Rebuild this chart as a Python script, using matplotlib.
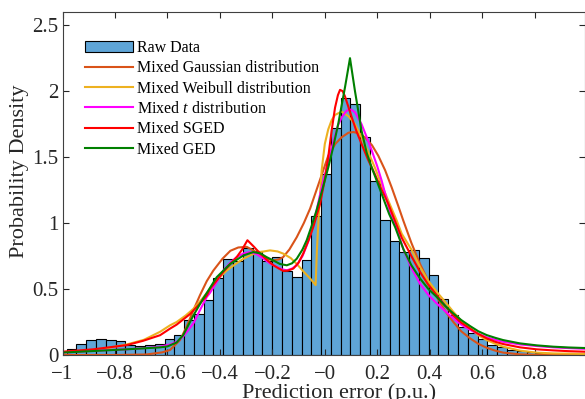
import numpy as np
import matplotlib.pyplot as plt
from matplotlib.patches import Patch
from matplotlib.lines import Line2D

plt.rcParams['font.family'] = ['Liberation Serif', 'DejaVu Serif']
plt.rcParams['mathtext.fontset'] = 'custom'
plt.rcParams['mathtext.rm'] = 'Liberation Serif'
plt.rcParams['mathtext.it'] = 'Liberation Serif:italic'

# histogram (bin edges start, width, density per bin)
bin_start = -0.984
bin_width = 0.0373
hist_density = [0.046, 0.081, 0.113, 0.121, 0.113, 0.105, 0.075, 0.065, 0.075, 0.085,
                0.118, 0.155, 0.262, 0.307, 0.42, 0.58, 0.73, 0.712, 0.813, 0.788,
                0.71, 0.743, 0.637, 0.59, 0.717, 1.057, 1.372, 1.724, 1.951, 1.90,
                1.649, 1.322, 1.02, 0.862, 0.78, 0.798, 0.737, 0.604, 0.427, 0.302,
                0.21, 0.169, 0.118, 0.075, 0.059, 0.04, 0.031, 0.02, 0.013, 0.01,
                0.008, 0.006, 0.005]

# fitted curves
gauss_x = [-1.0, -0.8, -0.68, -0.62, -0.59, -0.552, -0.527, -0.501, -0.476, -0.45,
           -0.425, -0.39, -0.36, -0.33, -0.298, -0.27, -0.247, -0.22, -0.197, -0.175,
           -0.159, -0.135, -0.107, -0.08, -0.056, -0.037, -0.018, 0.013, 0.04, 0.064,
           0.09, 0.109, 0.13, 0.153, 0.18, 0.204, 0.23, 0.255, 0.28, 0.299, 0.33,
           0.363, 0.395, 0.427, 0.46, 0.49, 0.52, 0.554, 0.585, 0.617, 0.65, 0.68,
           0.744, 0.8, 0.99]
gauss_y = [0.0, 0.0, 0.004, 0.02, 0.038, 0.113, 0.214, 0.34, 0.453, 0.56,
           0.64, 0.73, 0.79, 0.815, 0.82, 0.79, 0.755, 0.73, 0.717, 0.725,
           0.742, 0.8, 0.893, 1.0, 1.11, 1.22, 1.33, 1.51, 1.6, 1.65,
           1.685, 1.69, 1.68, 1.65, 1.59, 1.51, 1.40, 1.27, 1.13, 1.02, 0.85,
           0.69, 0.56, 0.44, 0.33, 0.25, 0.18, 0.126, 0.085, 0.055, 0.033, 0.018,
           0.005, 0.001, 0.0]

weib_x = [-1.0, -0.95, -0.883, -0.82, -0.755, -0.69, -0.628, -0.59, -0.565, -0.53,
          -0.501, -0.47, -0.438, -0.405, -0.374, -0.34, -0.31, -0.28, -0.247, -0.209,
          -0.18, -0.158, -0.13, -0.107, -0.08, -0.056, -0.035, -0.03, -0.022, -0.012,
          0.0, 0.013, 0.026, 0.039, 0.064, 0.09, 0.115, 0.14, 0.165, 0.191, 0.217,
          0.242, 0.274, 0.293, 0.33, 0.363, 0.395, 0.427, 0.46, 0.49, 0.52, 0.554,
          0.585, 0.617, 0.65, 0.68, 0.744, 0.808, 0.87, 0.935, 0.99]
weib_y = [0.02, 0.025, 0.038, 0.055, 0.08, 0.115, 0.176, 0.225, 0.25, 0.3,
          0.35, 0.42, 0.5, 0.58, 0.64, 0.69, 0.73, 0.76, 0.78, 0.793,
          0.785, 0.768, 0.735, 0.69, 0.63, 0.58, 0.53, 0.80, 1.10, 1.40,
          1.60, 1.71, 1.78, 1.82, 1.845, 1.81, 1.75, 1.65, 1.54, 1.42, 1.29,
          1.17, 1.02, 0.92, 0.80, 0.667, 0.56, 0.478, 0.40, 0.327, 0.26, 0.20,
          0.15, 0.113, 0.085, 0.063, 0.033, 0.018, 0.012, 0.01, 0.008]

t_x = [-1.0, -0.883, -0.755, -0.69, -0.628, -0.59, -0.565, -0.54, -0.52, -0.501,
       -0.476, -0.45, -0.438, -0.41, -0.387, -0.36, -0.336, -0.31, -0.285, -0.26,
       -0.234, -0.21, -0.183, -0.165, -0.145, -0.125, -0.107, -0.085, -0.063, -0.04,
       -0.012, 0.026, 0.05, 0.064, 0.08, 0.09, 0.1, 0.115, 0.14, 0.16, 0.179, 0.2,
       0.217, 0.249, 0.268, 0.30, 0.33, 0.363, 0.395, 0.427, 0.46, 0.49, 0.52,
       0.554, 0.585, 0.617, 0.65, 0.68, 0.744, 0.808, 0.871, 0.93, 0.99]
t_y = [0.018, 0.033, 0.043, 0.052, 0.063, 0.08, 0.10, 0.14, 0.19, 0.24,
       0.34, 0.44, 0.47, 0.56, 0.64, 0.70, 0.742, 0.77, 0.78, 0.765,
       0.73, 0.695, 0.667, 0.65, 0.642, 0.655, 0.68, 0.75, 0.86, 1.02,
       1.27, 1.57, 1.74, 1.80, 1.845, 1.86, 1.86, 1.84, 1.75, 1.65, 1.55, 1.43,
       1.32, 1.08, 0.99, 0.80, 0.66, 0.54, 0.455, 0.39, 0.33, 0.277, 0.23,
       0.19, 0.16, 0.134, 0.115, 0.10, 0.08, 0.068, 0.058, 0.052, 0.047]

sged_x = [-1.0, -0.883, -0.755, -0.692, -0.628, -0.59, -0.565, -0.514, -0.476, -0.45,
          -0.438, -0.41, -0.387, -0.36, -0.336, -0.315, -0.295, -0.27, -0.247, -0.22,
          -0.196, -0.175, -0.158, -0.14, -0.12, -0.1, -0.082, -0.06, -0.044, -0.018,
          0.0, 0.013, 0.026, 0.039, 0.05, 0.058, 0.068, 0.077, 0.09, 0.103, 0.12,
          0.14, 0.165, 0.191, 0.215, 0.242, 0.261, 0.293, 0.33, 0.363, 0.395, 0.427,
          0.46, 0.49, 0.52, 0.554, 0.585, 0.617, 0.65, 0.68, 0.744, 0.808, 0.87,
          0.93, 0.99]
sged_y = [0.025, 0.043, 0.075, 0.108, 0.15, 0.20, 0.23, 0.31, 0.39, 0.45,
          0.50, 0.57, 0.63, 0.69, 0.742, 0.80, 0.87, 0.82, 0.77, 0.72,
          0.68, 0.655, 0.637, 0.64, 0.655, 0.70, 0.77, 0.88, 0.97, 1.146,
          1.33, 1.50, 1.70, 1.875, 1.97, 2.01, 2.0, 1.96, 1.88, 1.80, 1.70,
          1.60, 1.48, 1.37, 1.26, 1.146, 1.05, 0.89, 0.75, 0.63, 0.53, 0.453,
          0.37, 0.30, 0.245, 0.20, 0.16, 0.126, 0.10, 0.083, 0.058, 0.043, 0.035,
          0.029, 0.025]

ged_x = [-1.0, -0.883, -0.755, -0.628, -0.6, -0.565, -0.54, -0.527, -0.501, -0.463,
         -0.45, -0.412, -0.361, -0.31, -0.273, -0.245, -0.222, -0.19, -0.171, -0.145,
         -0.125, -0.107, -0.085, -0.069, -0.05, -0.031, -0.01, 0.013, 0.03, 0.051,
         0.077, 0.096, 0.115, 0.14, 0.16, 0.179, 0.2, 0.217, 0.245, 0.268, 0.30,
         0.33, 0.363, 0.395, 0.427, 0.46, 0.49, 0.52, 0.554, 0.585, 0.617, 0.65,
         0.68, 0.744, 0.808, 0.871, 0.93, 0.99]
ged_y = [0.018, 0.03, 0.043, 0.058, 0.065, 0.095, 0.15, 0.2, 0.3, 0.43,
         0.47, 0.59, 0.69, 0.755, 0.78, 0.77, 0.742, 0.71, 0.69, 0.68,
         0.695, 0.73, 0.80, 0.87, 0.98, 1.10, 1.25, 1.42, 1.56, 1.75,
         2.03, 2.25, 2.0, 1.70, 1.53, 1.42, 1.31, 1.22, 1.07, 0.97, 0.80,
         0.68, 0.58, 0.50, 0.44, 0.37, 0.315, 0.265, 0.219, 0.18, 0.151, 0.13,
         0.113, 0.088, 0.073, 0.063, 0.057, 0.053]

labels = ['Raw Data', 'Mixed Gaussian distribution', 'Mixed Weibull distribution',
          'Mixed $t$ distribution', 'Mixed SGED', 'Mixed GED']
colors = ['#D95319', '#EDB120', '#FF00FF', '#FF0000', '#008000']

fig = plt.figure(figsize=(5.85, 3.99), dpi=100)
ax = fig.add_axes([62.5 / 585, 44 / 399, 522 / 585, 343 / 399])

n = len(hist_density)
left_edges = bin_start + bin_width * np.arange(n)
ax.bar(left_edges, hist_density, width=bin_width, align='edge',
       color='#5FA5D7', edgecolor='black', linewidth=0.8)

curves = [(gauss_x, gauss_y), (weib_x, weib_y), (t_x, t_y), (sged_x, sged_y), (ged_x, ged_y)]
for (cx, cy), c in zip(curves, colors):
    ax.plot(cx, cy, color=c, lw=1.5)

ax.set_xlim(-1, 0.99)
ax.set_ylim(0, 2.6)
xt = np.round(np.arange(-1, 0.81, 0.2), 1)
ax.set_xticks(xt)
ax.set_xticklabels([('%g' % v).replace('-', '\u2212') for v in xt])
yt = [0, 0.5, 1, 1.5, 2, 2.5]
ax.set_yticks(yt)
ax.set_yticklabels(['%g' % v for v in yt])
ax.tick_params(direction='in', top=True, right=True, length=4, width=0.8,
               labelsize=15, colors='#262626', pad=3)
ax.tick_params(axis='x', pad=7)
for s in ax.spines.values():
    s.set_color('#404040')
    s.set_linewidth(0.8)

ax.set_xlabel('Prediction error (p.u.)', fontsize=16, color='#262626')
ax.set_ylabel('Probability Density', fontsize=16, color='#262626')
ax.xaxis.set_label_coords(0.529, -0.083)
ax.yaxis.set_label_coords(-0.064, 0.536)

handles = [Patch(facecolor='#5FA5D7', edgecolor='black', linewidth=0.8)]
handles += [Line2D([], [], color=c, lw=1.5) for c in colors]
ax.legend(handles, labels, loc='upper left', bbox_to_anchor=(0.044, 0.918),
          frameon=False, fontsize=11.5, handlelength=3.0, handletextpad=0.2,
          labelspacing=0.27, borderpad=0, borderaxespad=0)

fig.savefig('out.png', dpi=100)
